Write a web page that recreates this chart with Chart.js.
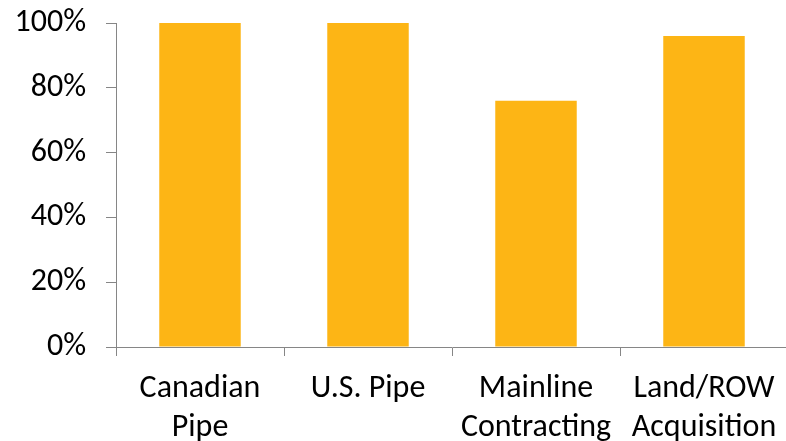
<!DOCTYPE html>
<html><head><meta charset="utf-8">
<script src="https://cdn.jsdelivr.net/npm/chart.js@4/dist/chart.umd.min.js"></script>
<style>html,body{margin:0;padding:0;background:#fff;overflow:hidden}#wrap{width:786px;height:441px;overflow:hidden}</style>
</head><body><div id="wrap"><canvas id="c" width="792" height="441"></canvas></div>
<script>
const categories = [["Canadian","Pipe"],["U.S. Pipe"],["Mainline","Contracting"],["Land/ROW","Acquisition"]];
const values = [100, 100, 76, 96];
const yTicks = [0, 20, 40, 60, 80, 100];

const axisColor = '#868686';
const fam = 'Carlito, Lato, "Open Sans", sans-serif';
new Chart(document.getElementById('c'), {
  type: 'bar',
  data: {labels: categories, datasets: [{data: values, backgroundColor: '#FDB515', borderWidth: 0, categoryPercentage: 1, barPercentage: 0.485}]},
  options: {
    responsive: false, animation: false,
    plugins: {legend: {display: false}, tooltip: {enabled: false}},
    layout: {padding: {top: 23, right: 4, bottom: 0, left: 0}},
    scales: {
      x: {
        offset: true,
        grid: {display: true, offset: true, drawOnChartArea: false, color: axisColor, tickLength: 9, lineWidth: 1},
        border: {color: axisColor, width: 1},
        ticks: {color: '#000', font: {family: fam, size: 32, lineHeight: 1.2}, padding: 14, maxRotation: 0, autoSkip: false},
        afterFit: s => { s.height = 94; }
      },
      y: {
        min: 0, max: 100,
        afterBuildTicks: s => { s.ticks = yTicks.map(v => ({value: v})); },
        grid: {display: true, drawOnChartArea: false, color: axisColor, tickLength: 10, lineWidth: 1},
        border: {color: axisColor, width: 1},
        ticks: {color: '#000', font: {family: fam, size: 32, lineHeight: 0.05}, padding: 20, callback: v => v + '%'},
        afterFit: s => { s.width = 116; }
      }
    }
  }
});
</script></body></html>
